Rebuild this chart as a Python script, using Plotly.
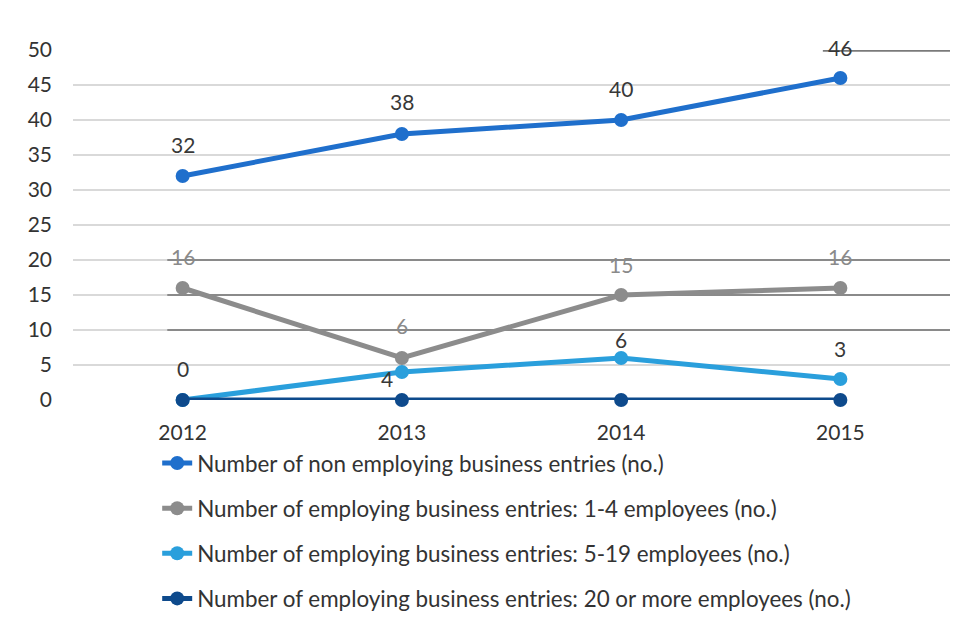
import plotly.graph_objects as go

years = ["2012", "2013", "2014", "2015"]
series_names = [
    "Number of non employing business entries (no.)",
    "Number of employing business entries: 1-4 employees (no.)",
    "Number of employing business entries: 5-19 employees (no.)",
    "Number of employing business entries: 20 or more employees (no.)",
]
non_employing = [32, 38, 40, 46]
emp_1_4 = [16, 6, 15, 16]
emp_5_19 = [0, 4, 6, 3]
emp_20_plus = [0, 0, 0, 0]
y_ticks = [0, 5, 10, 15, 20, 25, 30, 35, 40, 45, 50]
# gridlines that print darker across the right of the plot
dark_rules = [10, 15, 20]
dark_rule_top = 50

colors = ["#1f6fcc", "#8c8c8c", "#2a9fdc", "#0e4a8c"]
label_colors = ["#383838", "#8a8a8a", "#383838", None]
all_values = [non_employing, emp_1_4, emp_5_19, emp_20_plus]

FONT = "Lato"
TEXT = "#333333"

fig = go.Figure()
for i, (name, vals) in enumerate(zip(series_names, all_values)):
    fig.add_trace(go.Scatter(
        x=years, y=vals, name=name, mode="lines+markers",
        line=dict(color=colors[i], width=5),
        marker=dict(color=colors[i], size=14),
        cliponaxis=False, legendgroup=f"g{i}",
    ))

# value labels, placed relative to each point (x given as category index)
label_shifts = {
    0: [(0, 32), (0, 33), (0, 32), (0, 31)],
    1: [(0, 32), (0, 33), (0, 31), (0, 32)],
    2: [(0, 32), (-15, -6), (0, 19), (0, 31)],
}
for i, shifts in label_shifts.items():
    for j, (xs, ys) in enumerate(shifts):
        fig.add_annotation(
            x=j, y=all_values[i][j], xref="x", yref="y",
            text=str(all_values[i][j]),
            showarrow=False, xshift=xs, yshift=ys,
            font=dict(family=FONT, size=21, color=label_colors[i]),
        )

# darker rules drawn between the grid and the series
for v in dark_rules:
    fig.add_shape(type="line", xref="x", yref="y", x0=-0.07, x1=3.5,
                  y0=v, y1=v, line=dict(color="#8a8a8a", width=2), layer="between")
fig.add_shape(type="line", xref="x", yref="y", x0=2.92, x1=3.5,
              y0=dark_rule_top, y1=dark_rule_top,
              line=dict(color="#7a7a7a", width=3.5), layer="between")

fig.update_layout(
    width=962, height=637,
    margin=dict(l=73, r=12, t=50, b=237),
    paper_bgcolor="white", plot_bgcolor="white",
    font=dict(family=FONT, size=21, color=TEXT),
    showlegend=True,
    legend=dict(
        orientation="v", x=0.096, xanchor="left", y=-0.12, yanchor="top",
        font=dict(family=FONT, size=22.4, color=TEXT),
        traceorder="grouped", tracegroupgap=13,
        bgcolor="rgba(0,0,0,0)",
    ),
    xaxis=dict(
        type="category", range=[-0.5, 3.5], showgrid=False, zeroline=False,
        showline=False, ticks="", ticklabelstandoff=18,
        tickfont=dict(family=FONT, size=21, color=TEXT),
    ),
    yaxis=dict(
        range=[0, 50], tickvals=y_ticks, showgrid=True, gridcolor="#d9d9d9",
        gridwidth=1.5, zeroline=False, showline=False, ticks="",
        ticklabelstandoff=20,
        tickfont=dict(family=FONT, size=21, color=TEXT),
    ),
)

fig.write_html("out.html")
